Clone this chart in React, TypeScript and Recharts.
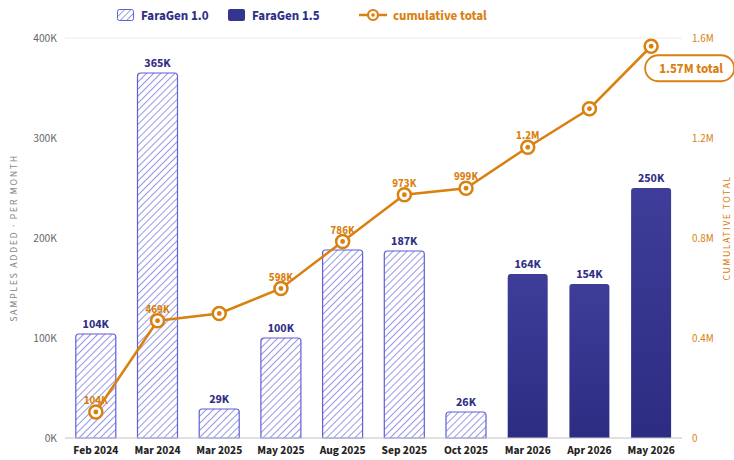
import React from 'react';
import { ComposedChart, Bar, Line, XAxis, YAxis, CartesianGrid, Cell, LabelList } from 'recharts';

const categories = ['Feb 2024', 'Mar 2024', 'Mar 2025', 'May 2025', 'Aug 2025', 'Sep 2025', 'Oct 2025', 'Mar 2026', 'Apr 2026', 'May 2026'];
const monthly = [104000, 365000, 29000, 100000, 188000, 187000, 26000, 164000, 154000, 250000];
const versions = ['1.0', '1.0', '1.0', '1.0', '1.0', '1.0', '1.0', '1.5', '1.5', '1.5'];
const cumulative = [104000, 469000, 498000, 598000, 786000, 973000, 999000, 1163000, 1317000, 1567000];
const barLabelShown = [true, true, true, true, false, true, true, true, true, true];
const lineLabelShown = [true, true, false, true, true, true, true, true, false, false];
const leftTicks = [0, 100000, 200000, 300000, 400000];
const rightTicks = [0, 400000, 800000, 1200000, 1600000];
const totalLabel = '1.57M total';

const NAVY = '#2f2f86';
const HATCH = '#5f5fd8';
const ORANGE = '#d9800f';
const FONT = "'Source Sans 3', 'Source Sans Pro', Lato, 'Noto Sans', sans-serif";

const data = categories.map((c, i) => ({
  name: c,
  value: monthly[i],
  version: versions[i],
  cum: cumulative[i],
}));

const fmtK = (v: number) => `${Math.round(v / 1000)}K`;
const fmtCum = (v: number) => (v >= 1000000 ? `${(v / 1000000).toFixed(1)}M` : `${Math.round(v / 1000)}K`);
const fmtRight = (v: number) => (v === 0 ? '0' : `${+(v / 1000000).toFixed(1)}M`);

const BarLabel = (props: any) => {
  const { x, y, width, value, index } = props;
  if (!barLabelShown[index]) return null;
  return (
    <text x={x + width / 2} y={y - 6} textAnchor="middle" fill={NAVY} fontSize={12} fontWeight={700}>
      {fmtK(value)}
    </text>
  );
};

const LineLabel = (props: any) => {
  const { x, y, value, index } = props;
  if (index === data.length - 1) {
    return (
      <g>
        <rect x={x - 6} y={y + 9} width={89} height={26} rx={13} fill="#fff" stroke={ORANGE} strokeWidth={1.8} />
        <text x={x + 40} y={y + 26.5} textAnchor="middle" fill={ORANGE} fontSize={13} fontWeight={700}>
          {totalLabel}
        </text>
      </g>
    );
  }
  if (!lineLabelShown[index]) return null;
  return (
    <text x={x} y={y - 8} textAnchor="middle" fill={ORANGE} fontSize={11} fontWeight={700}>
      {fmtCum(value)}
    </text>
  );
};

const Dot = (props: any) => {
  const { cx, cy } = props;
  return (
    <g>
      <circle cx={cx} cy={cy} r={6.5} fill="#fff" stroke={ORANGE} strokeWidth={2.5} />
      <circle cx={cx} cy={cy} r={2.4} fill={ORANGE} />
    </g>
  );
};

const Legend = () => (
  <div style={{ position: 'absolute', left: 0, top: 0, width: 734, height: 30, fontFamily: FONT, fontSize: 13, fontWeight: 700 }}>
    <svg width={734} height={30} style={{ position: 'absolute', left: 0, top: 0 }}>
      <defs>
        <pattern id="hatchL" patternUnits="userSpaceOnUse" width={4.5} height={4.5} patternTransform="rotate(45)">
          <line x1={0} y1={0} x2={0} y2={4.5} stroke={HATCH} strokeWidth={1.2} />
        </pattern>
      </defs>
      <rect x={117.5} y={9.5} width={16} height={11} rx={2} fill="url(#hatchL)" stroke={HATCH} strokeWidth={1} />
      <text x={141} y={19.5} fill={NAVY}>FaraGen 1.0</text>
      <rect x={228} y={9} width={17} height={12} rx={2} fill="#35358f" />
      <text x={252} y={19.5} fill={NAVY}>FaraGen 1.5</text>
      <line x1={359} y1={15} x2={387} y2={15} stroke={ORANGE} strokeWidth={2.5} />
      <circle cx={373} cy={15} r={5} fill="#fff" stroke={ORANGE} strokeWidth={2.2} />
      <circle cx={373} cy={15} r={1.8} fill={ORANGE} />
      <text x={393} y={19.5} fill={ORANGE}>cumulative total</text>
    </svg>
  </div>
);

export default function App() {
  return (
    <div style={{ position: 'absolute', left: 0, top: 0, width: 734, height: 460, background: '#fff', fontFamily: FONT }}>
      <Legend />
      <div style={{ position: 'absolute', left: 0, top: 0 }}>
        <ComposedChart width={734} height={460} data={data} margin={{ top: 38, right: 0, left: 0, bottom: 0 }} barCategoryGap="17.5%">
          <defs>
            <pattern id="hatch" patternUnits="userSpaceOnUse" width={5} height={5} patternTransform="rotate(45)">
              <rect x={0} y={0} width={5} height={5} fill="#fff" />
              <line x1={0} y1={0} x2={0} y2={5} stroke={HATCH} strokeWidth={1.3} />
            </pattern>
            <linearGradient id="solid" x1="0" y1="0" x2="0" y2="1">
              <stop offset="0%" stopColor="#3e3e9a" />
              <stop offset="100%" stopColor="#2c2c82" />
            </linearGradient>
          </defs>
          <CartesianGrid vertical={false} stroke="#ececec" />
          <XAxis
            dataKey="name"
            height={22}
            tickLine={false}
            axisLine={{ stroke: '#cccccc' }}
            interval={0}
            tick={{ fill: '#222', fontSize: 11.5, fontWeight: 700 }}
          />
          <YAxis
            yAxisId="left"
            width={65}
            domain={[0, 400000]}
            ticks={leftTicks}
            tickFormatter={fmtK}
            tickLine={false}
            axisLine={false}
            tick={{ fill: '#666', fontSize: 11.5 }}
            label={{ value: 'SAMPLES ADDED · PER MONTH', angle: -90, position: 'insideLeft', dx: 8, fill: '#888', fontSize: 10, letterSpacing: 1.6, style: { textAnchor: 'middle' } }}
          />
          <YAxis
            yAxisId="right"
            orientation="right"
            width={52}
            domain={[0, 1600000]}
            ticks={rightTicks}
            tickFormatter={fmtRight}
            tickLine={false}
            axisLine={false}
            tickMargin={4}
            tick={{ fill: ORANGE, fontSize: 11 }}
          />
          <Bar yAxisId="left" dataKey="value" radius={[3, 3, 0, 0]} isAnimationActive={false}>
            {data.map((d, i) => (
              <Cell
                key={i}
                fill={d.version === '1.0' ? 'url(#hatch)' : 'url(#solid)'}
                stroke={d.version === '1.0' ? HATCH : '#2c2c82'}
                strokeWidth={d.version === '1.0' ? 1.2 : 0}
              />
            ))}
            <LabelList dataKey="value" content={BarLabel} />
          </Bar>
          <Line
            yAxisId="right"
            dataKey="cum"
            stroke={ORANGE}
            strokeWidth={2.5}
            dot={<Dot />}
            activeDot={false}
            isAnimationActive={false}
            label={<LineLabel />}
          />
        </ComposedChart>
      </div>
      <div
        style={{
          position: 'absolute',
          left: 727,
          top: 228,
          transform: 'translate(-50%, -50%) rotate(-90deg)',
          color: ORANGE,
          fontSize: 10,
          letterSpacing: 1.4,
          whiteSpace: 'nowrap',
        }}
      >
        CUMULATIVE TOTAL
      </div>
    </div>
  );
}
